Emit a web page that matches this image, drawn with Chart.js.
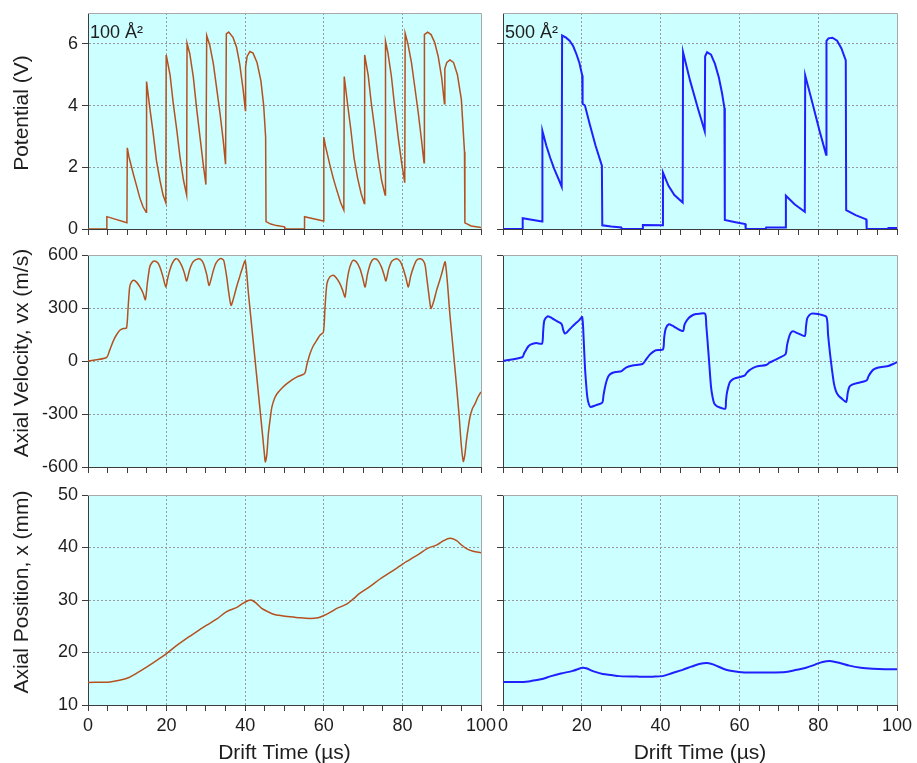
<!DOCTYPE html>
<html>
<head>
<meta charset="utf-8">
<script src="https://cdn.jsdelivr.net/npm/chart.js@4"></script>
<style>
html,body{margin:0;padding:0;background:#ffffff;}
#wrap{position:relative;width:917px;height:763px;overflow:hidden;background:#ffffff;}
#wrap canvas{position:absolute;left:0;top:0;}
</style>
</head>
<body>
<div id="wrap">
<canvas id="c0" width="917" height="763"></canvas>
<canvas id="c1" width="917" height="763"></canvas>
<canvas id="c2" width="917" height="763"></canvas>
<canvas id="c3" width="917" height="763"></canvas>
<canvas id="c4" width="917" height="763"></canvas>
<canvas id="c5" width="917" height="763"></canvas>
</div>
<script>
// ---------- axis ticks and labels ----------
const timeTicks = [0,5,10,15,20,25,30,35,40,45,50,55,60,65,70,75,80,85,90,95,100];
const timeLabels = [0,20,40,60,80,100];
const potTicks = [0,2,4,6];
const velTicks = [-600,-300,0,300,600];
const posTicks = [10,20,30,40,50];
const panelLabels = ['100 Å²', '500 Å²'];
const yTitles = ['Potential (V)', 'Axial Velocity, vx (m/s)', 'Axial Position, x (mm)'];
const xTitle = 'Drift Time (µs)';

// ---------- 100 Å² : potential ----------
const potLeftT = [0,4.7,4.8,9.9,10.0,10.4,11.5,12.4,13.2,14.0,14.8,14.9,15.7,16.6,17.4,18.3,19.1,19.8,19.9,20.9,21.7,22.6,23.4,24.3,25.1,25.2,25.9,26.8,27.6,28.5,29.3,30.0,30.2,31.0,31.9,32.7,33.6,34.4,35.0,35.2,35.8,36.9,37.8,38.6,39.5,40.05,40.1,40.5,41.2,42.0,43.0,44.0,44.7,45.2,45.3,46.5,48.0,50.0,50.1,55.0,55.1,59.9,60.0,60.4,61.5,62.4,63.2,64.3,65.1,65.2,66.0,66.9,67.7,68.6,69.5,70.3,70.4,71.3,72.1,73.0,73.8,74.7,75.6,75.7,76.3,77.2,78.0,78.9,79.8,80.6,80.7,81.4,82.3,83.1,84.0,84.8,85.5,85.6,86.4,87.3,88.2,89.1,90.0,90.7,90.8,91.3,92.1,93.0,94.0,95.0,95.8,95.9,97.5,100];
const potLeftV = [0,0,0.4,0.2,2.63,2.35,1.8,1.38,1.0,0.72,0.54,4.78,3.95,3.09,2.23,1.58,1.1,0.85,5.64,4.98,4.06,3.2,2.34,1.58,1.1,6.02,5.68,4.92,3.95,2.98,2.12,1.44,6.27,5.95,5.35,4.6,3.74,2.88,2.1,6.32,6.38,6.21,5.89,5.35,4.49,3.84,5.25,5.6,5.75,5.7,5.4,4.8,4.0,2.98,0.24,0.16,0.11,0.07,0,0,0.4,0.26,2.98,2.7,2.1,1.65,1.3,0.85,0.61,4.94,4.1,3.2,2.3,1.65,1.15,0.83,5.64,4.98,4.06,3.2,2.34,1.58,1.1,6.08,5.72,4.95,4.0,3.0,2.15,1.5,6.34,6.0,5.4,4.65,3.8,2.95,2.15,6.3,6.38,6.3,6.05,5.6,4.9,4.06,5.2,5.4,5.48,5.4,5.0,4.2,2.5,0.2,0.1,0.05];

// ---------- 500 Å² : potential ----------
const potRightT = [0,4.9,5.0,9.9,10.0,11.0,12.0,13.0,14.0,14.9,15.0,16.0,16.9,17.8,18.6,19.4,20.1,20.2,20.8,22.0,23.5,25.1,25.2,27.5,30.0,30.1,35.4,35.5,40.5,40.6,42.0,43.5,45.6,45.7,47.5,49.5,51.2,51.3,51.8,52.8,53.8,54.8,55.6,56.2,56.3,59.0,61.5,61.6,66.7,66.8,71.7,71.8,74.0,76.6,76.7,78.5,80.3,82.0,82.1,82.6,83.6,84.8,85.9,87.0,87.1,89.5,92.2,92.3,97.7,97.8,100];
const potRightV = [0,0,0.35,0.24,3.18,2.7,2.3,1.95,1.65,1.37,6.27,6.2,6.1,5.93,5.68,5.38,4.98,4.06,4.0,3.4,2.7,2.05,0.12,0.08,0.05,0,0,0.13,0.12,1.83,1.4,1.1,0.86,5.73,4.8,3.9,3.17,5.6,5.73,5.65,5.35,4.9,4.4,3.92,0.29,0.22,0.16,0,0,0.05,0.05,1.08,0.8,0.56,4.98,4.1,3.2,2.41,6.1,6.18,6.2,6.1,5.85,5.46,0.61,0.45,0.31,0,0,0.03,0.03];

// ---------- 100 Å² : axial velocity ----------
const velLeftT = [0,4.7,5.5,6.5,7.3,8.1,9.0,9.8,10.2,10.6,11.0,11.6,12.4,13.2,14.0,14.6,15.1,15.7,16.2,16.8,17.8,18.5,19.1,19.8,20.3,20.8,21.5,22.3,23.0,23.8,24.5,25.1,25.9,26.8,28.2,29.0,29.5,30.2,30.8,31.4,31.9,32.6,33.6,34.3,34.6,35.3,35.8,36.4,37.1,37.8,38.5,39.1,40.0,40.8,42.1,43.4,44.4,44.9,45.1,45.5,45.9,46.4,46.8,47.5,48.1,49.5,50.6,52.0,53.1,55.1,55.7,56.5,57.3,58.2,59.0,59.9,60.3,60.8,61.5,62.4,63.2,64.1,64.8,65.4,65.9,66.4,67.0,67.5,68.3,69.2,69.9,70.5,71.1,71.7,72.3,73.0,73.8,74.7,75.3,75.8,76.5,77.3,78.5,79.4,80.2,80.9,81.5,82.1,82.8,83.6,84.5,85.3,85.8,86.2,86.6,87.0,87.3,88.0,88.7,89.4,90.0,90.9,92.1,93.4,94.4,95.0,95.5,95.9,96.3,96.8,97.2,97.8,98.5,99.2,100];
const velLeftV = [0,20,60,117,150,174,184,187,300,419,445,457,445,419,385,347,440,532,555,566,555,520,475,419,470,513,555,579,572,541,500,453,520,563,579,568,545,490,428,470,513,555,579,575,565,475,390,315,360,419,470,513,566,388,98,-192,-415,-530,-572,-530,-411,-320,-260,-210,-185,-150,-128,-105,-91,-71,-20,42,85,117,145,164,300,438,475,485,470,438,400,362,450,513,555,570,560,523,470,419,490,541,570,579,568,530,490,453,520,565,579,565,523,470,419,480,530,570,579,568,540,470,400,330,297,340,400,450,494,560,260,-50,-300,-480,-568,-530,-449,-370,-317,-270,-241,-205,-175];

// ---------- 500 Å² : axial velocity ----------
const velRightT = [0,4.9,5.4,5.8,6.4,7.1,8.4,9.9,10.2,10.5,11.3,12.0,13.0,14.0,14.9,15.3,15.7,16.2,16.7,17.5,18.4,19.3,20.1,20.5,20.8,21.1,21.4,21.8,22.2,23.5,25.2,25.5,25.9,26.4,26.9,27.7,28.6,30.1,31.2,32.9,35.4,36.2,37.1,38.0,38.8,40.6,40.9,41.3,42.1,43.0,43.8,45.7,46.0,46.4,47.2,48.1,49.0,49.8,51.3,51.6,51.9,52.3,52.8,53.2,53.6,54.2,54.9,56.4,56.6,56.8,57.2,57.6,58.3,59.1,61.3,61.9,62.5,63.5,64.6,66.8,67.6,68.5,70.2,71.7,72.1,72.6,73.0,73.6,75.0,76.6,76.9,77.2,77.7,78.3,79.3,80.4,82.1,82.5,83.0,83.5,84.0,84.5,85.1,86.0,87.1,87.5,87.9,88.5,89.4,92.3,92.8,93.6,94.3,95.3,96.5,97.8,99.0,100];
const velRightV = [0,21,45,60,82,94,102,98,170,230,253,248,234,222,208,175,155,162,174,193,212,230,249,110,-34,-130,-204,-245,-260,-251,-236,-195,-147,-105,-81,-68,-62,-57,-37,-26,-17,5,32,50,61,66,130,183,208,200,189,170,200,221,245,259,266,268,268,200,117,0,-147,-205,-240,-255,-262,-270,-225,-185,-145,-119,-104,-96,-83,-66,-53,-39,-30,-23,-10,0,19,38,90,136,158,168,155,142,195,240,258,268,268,264,249,150,42,-50,-128,-170,-194,-213,-232,-180,-147,-135,-128,-109,-85,-58,-45,-37,-32,-28,-17,-6];

// ---------- 100 Å² : axial position ----------
const posLeftT = [0,5.6,8,10.3,12.5,14.9,17.5,20,22.5,25.1,27.5,30.2,32.8,35.3,37.9,39.5,40.8,41.7,42.8,44.2,45.7,47.2,49.3,51.4,54,56.5,58.5,59.9,61.5,63.3,65.8,67.5,69.2,71.8,74.3,76.8,79.4,81,82.8,84.5,86.3,88.8,90.5,92.1,93.8,95,96.3,98,100];
const posLeftV = [14.3,14.4,14.7,15.2,16.1,17.2,18.5,19.8,21.3,22.7,23.9,25.2,26.4,27.8,28.6,29.4,29.9,29.95,29.4,28.4,27.8,27.3,27.0,26.8,26.6,26.5,26.6,27.0,27.6,28.4,29.2,30.2,31.3,32.6,34.0,35.2,36.5,37.3,38.1,38.9,39.8,40.5,41.3,41.75,41.3,40.5,39.8,39.3,39.0];

// ---------- 500 Å² : axial position ----------
const posRightT = [0,4.9,7.3,9.6,12.2,14.7,17.7,20.2,21.1,23.0,25.3,27.5,29.5,34.6,38,40.5,43,45.6,47.8,49.8,51.8,53.5,56.6,59,61.7,66.8,71.8,74.5,76.9,79.2,81.1,83.0,85.5,87.9,90.8,93.8,97,100];
const posRightV = [14.4,14.4,14.6,14.9,15.5,16.0,16.5,17.1,17.0,16.4,15.9,15.7,15.5,15.4,15.4,15.5,16.1,16.7,17.3,17.8,18.0,17.7,16.7,16.4,16.2,16.2,16.3,16.7,17.1,17.7,18.2,18.4,18.0,17.5,17.1,16.9,16.8,16.8];

// ---------- styling ----------
const FONT = "'Liberation Sans', Arial, Helvetica, sans-serif";
const BROWN = '#b5511f';
const BLUE = '#2020ff';
const TEXT = '#1e1e1e';
const AXIS = '#3c3c3c';
const GRID = '#9a9a9a';
Chart.defaults.font.family = FONT;

const panelPlugin = {
  id: 'panelDeco',
  beforeDraw(chart) {
    const {ctx, chartArea: a} = chart;
    ctx.save();
    ctx.fillStyle = '#ccffff';
    ctx.fillRect(a.left, a.top, a.right - a.left, a.bottom - a.top);
    ctx.restore();
  },
  beforeDatasetsDraw(chart) {
    const {ctx, chartArea: a} = chart;
    ctx.save();
    ctx.strokeStyle = '#a8a8a8';
    ctx.lineWidth = 1;
    ctx.beginPath();
    ctx.moveTo(Math.round(a.left), Math.round(a.top) + 0.5);
    ctx.lineTo(Math.round(a.right) + 0.5, Math.round(a.top) + 0.5);
    ctx.lineTo(Math.round(a.right) + 0.5, Math.round(a.bottom));
    ctx.stroke();
    ctx.restore();
  },
  afterDraw(chart, args, opts) {
    if (!opts || !opts.text) return;
    const {ctx, chartArea: a} = chart;
    ctx.save();
    ctx.fillStyle = TEXT;
    ctx.font = '18px ' + FONT;
    ctx.textAlign = 'left';
    ctx.textBaseline = 'alphabetic';
    ctx.fillText(opts.text, a.left + 2, a.top + 25);
    ctx.restore();
  }
};

function xScale(showLabels) {
  return {
    type: 'linear', min: 0, max: 100,
    afterBuildTicks: s => { s.ticks = timeTicks.map(v => ({value: v})); },
    ticks: {
      autoSkip: false, maxRotation: 0, padding: 4, color: TEXT,
      font: {family: FONT, size: 18},
      callback: v => (showLabels && timeLabels.includes(v)) ? String(v) : ''
    },
    grid: {
      color: c => (c.tick && timeLabels.includes(c.tick.value) && c.tick.value > 0 && c.tick.value < 100) ? GRID : 'rgba(0,0,0,0)',
      lineWidth: 1, drawTicks: true, tickLength: 6, tickColor: AXIS, tickWidth: 1
    },
    border: {display: true, color: AXIS, width: 1, dash: [2, 2]},
    title: {display: showLabels, text: xTitle, color: TEXT, font: {family: FONT, size: 21, lineHeight: 0.95}, padding: 0},
    afterFit: s => { s.height = showLabels ? 58 : 8; s.paddingLeft = 0; s.paddingRight = 0; }
  };
}

function yScale(tickArr, showLabels, title) {
  const min = tickArr[0];
  const max = (tickArr === potTicks) ? 7 : tickArr[tickArr.length - 1];
  return {
    type: 'linear', min: min, max: max,
    afterBuildTicks: s => { s.ticks = tickArr.map(v => ({value: v})); },
    ticks: {
      padding: 4, color: TEXT, font: {family: FONT, size: 18},
      callback: v => showLabels ? String(v) : ''
    },
    grid: {
      color: c => (c.tick && c.tick.value > min && c.tick.value < max) ? GRID : 'rgba(0,0,0,0)',
      lineWidth: 1, drawTicks: true, tickLength: 6, tickColor: AXIS, tickWidth: 1
    },
    border: {display: true, color: AXIS, width: 1, dash: [2, 2]},
    title: {display: !!title, text: title ? '  \u2009' + title : '', color: TEXT, font: {family: FONT, size: 21, lineHeight: 1.2}, padding: {top: 10, bottom: 0}},
    afterFit: s => { s.width = showLabels ? 88 : 6; s.paddingTop = 0; s.paddingBottom = 0; }
  };
}

const rowPad = [
  {top: 13, bottom: 526},
  {top: 255, bottom: 288},
  {top: 495, bottom: 0}
];
const colPad = [
  {left: 0, right: 436},
  {left: 497, right: 20}
];

const panels = [
  {id: 'c0', row: 0, col: 0, T: potLeftT, V: potLeftV, ticks: potTicks, color: BROWN, width: 1.5, tension: 0},
  {id: 'c1', row: 0, col: 1, T: potRightT, V: potRightV, ticks: potTicks, color: BLUE, width: 2, tension: 0},
  {id: 'c2', row: 1, col: 0, T: velLeftT, V: velLeftV, ticks: velTicks, color: BROWN, width: 1.5, tension: 0.25},
  {id: 'c3', row: 1, col: 1, T: velRightT, V: velRightV, ticks: velTicks, color: BLUE, width: 2, tension: 0.25},
  {id: 'c4', row: 2, col: 0, T: posLeftT, V: posLeftV, ticks: posTicks, color: BROWN, width: 1.5, tension: 0.3},
  {id: 'c5', row: 2, col: 1, T: posRightT, V: posRightV, ticks: posTicks, color: BLUE, width: 2, tension: 0.3}
];

panels.forEach(p => {
  const left = p.col === 0;
  const bottomRow = p.row === 2;
  new Chart(document.getElementById(p.id), {
    type: 'line',
    data: {
      datasets: [{
        data: p.T.map((t, i) => ({x: t, y: p.V[i]})),
        borderColor: p.color,
        borderWidth: p.width,
        pointRadius: 0,
        tension: p.tension,
        fill: false
      }]
    },
    options: {
      responsive: false,
      animation: false,
      devicePixelRatio: 1,
      events: [],
      layout: {padding: {
        left: colPad[p.col].left, right: colPad[p.col].right,
        top: rowPad[p.row].top, bottom: rowPad[p.row].bottom
      }},
      scales: {
        x: xScale(bottomRow),
        y: yScale(p.ticks, left, left ? yTitles[p.row] : '')
      },
      plugins: {
        legend: {display: false},
        tooltip: {enabled: false},
        panelDeco: {text: p.row === 0 ? panelLabels[p.col] : ''}
      }
    },
    plugins: [panelPlugin]
  });
});
</script>
</body>
</html>
